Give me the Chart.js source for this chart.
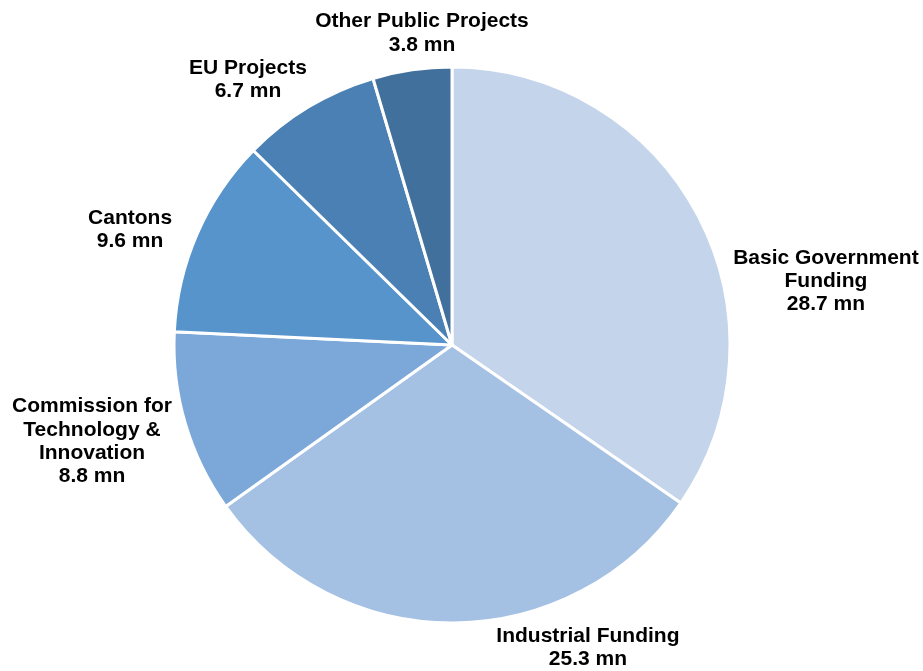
<!DOCTYPE html>
<html>
<head>
<meta charset="utf-8">
<script src="https://cdn.jsdelivr.net/npm/chart.js@4"></script>
<style>
  html, body { margin: 0; padding: 0; background: #ffffff; }
  #wrap { width: 923px; height: 671px; position: relative; }
</style>
</head>
<body>
<div id="wrap"><canvas id="pie"></canvas></div>
<script>
// Funding sources, clockwise from 12 o'clock (CHF million)
const categories = [
  ['Basic Government', 'Funding'],
  ['Industrial Funding'],
  ['Commission for', 'Technology &', 'Innovation'],
  ['Cantons'],
  ['EU Projects'],
  ['Other Public Projects']
];
const values = [28.7, 25.3, 8.8, 9.6, 6.7, 3.8];
const unit = 'mn';
const colors = ['#c4d5eb', '#a4c0e3', '#7ba8d8', '#5694cb', '#4a80b4', '#41709c'];

// Where each label block sits, as offsets from the pie centre in units of the radius
const labelAnchors = [
  [1.345, -0.230],
  [0.489, 1.088],
  [-1.295, 0.347],
  [-1.158, -0.414],
  [-0.734, -0.955],
  [-0.108, -1.122]
];

const outsideLabels = {
  id: 'outsideLabels',
  afterDatasetsDraw(chart) {
    const ctx = chart.ctx;
    const meta = chart.getDatasetMeta(0);
    ctx.save();
    ctx.font = 'bold 21px "Liberation Sans", Arial, sans-serif';
    ctx.fillStyle = '#000000';
    ctx.textAlign = 'center';
    ctx.textBaseline = 'middle';
    const lineH = 23.3;
    meta.data.forEach((arc, i) => {
      const r = arc.outerRadius;
      const cx = arc.x + labelAnchors[i][0] * r;
      const cy = arc.y + labelAnchors[i][1] * r;
      const lines = categories[i].concat([values[i].toFixed(1) + ' ' + unit]);
      const top = cy - (lines.length - 1) * lineH / 2;
      lines.forEach((t, k) => ctx.fillText(t, cx, top + k * lineH));
    });
    ctx.restore();
  }
};

new Chart(document.getElementById('pie'), {
  type: 'pie',
  data: {
    labels: categories.map(c => c.join(' ')),
    datasets: [{
      data: values,
      backgroundColor: colors,
      borderColor: '#ffffff',
      borderWidth: 3
    }]
  },
  options: {
    responsive: true,
    maintainAspectRatio: false,
    animation: false,
    radius: 278,
    layout: { padding: { top: 40, bottom: 21, left: 0, right: 19 } },
    plugins: {
      legend: { display: false },
      tooltip: { enabled: false }
    }
  },
  plugins: [outsideLabels]
});
</script>
</body>
</html>
